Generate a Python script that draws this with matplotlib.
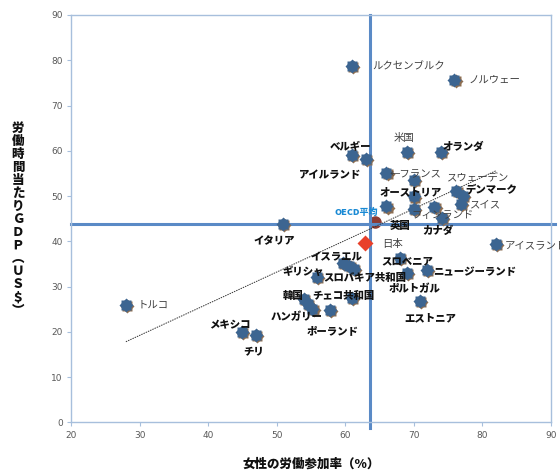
import numpy as np
import matplotlib
matplotlib.use('Agg')
import matplotlib.pyplot as plt
from matplotlib import transforms

plt.rcParams['font.family'] = ['Noto Sans CJK JP', 'DejaVu Sans']

# female labour participation (%) vs GDP per hour worked (US$)
countries = ['ルクセンブルク', 'ノルウェー', '米国', 'オランダ', 'ベルギー', 'アイルランド',
             'フランス', 'ドイツ', 'オーストリア', 'デンマーク', 'スウェーデン', 'スイス',
             'オーストラリア', 'フィンランド', 'スペイン', 'カナダ', 'イタリア', 'アイスランド',
             'イスラエル', 'エストニア2', 'スロバキア共和国', 'スロベニア', 'ニュージーランド',
             'ポルトガル', 'エストニア', 'ギリシャ', 'チェコ共和国', '韓国', 'フランス2',
             'ハンガリー', 'ポーランド', 'トルコ', 'メキシコ', 'チリ']
female_lfp = [61.0, 75.9, 69.0, 74.0, 61.0, 63.0,
              66.0, 70.0, 70.0, 76.2, 77.2, 76.9,
              66.0, 70.0, 73.0, 74.1, 50.9, 82.0,
              59.7, 60.6, 61.3, 68.0, 71.9,
              69.0, 70.9, 55.85, 60.95, 54.0, 54.6,
              55.2, 57.8, 28.0, 44.9, 47.0]
gdp_per_hour = [78.7, 75.6, 59.7, 59.7, 59.1, 58.2,
                55.1, 53.6, 49.9, 51.2, 50.0, 48.2,
                47.7, 47.1, 47.6, 45.1, 43.9, 39.4,
                35.2, 34.6, 33.9, 36.3, 33.7,
                33.0, 26.8, 32.2, 27.4, 27.3, 26.2,
                25.1, 24.8, 25.9, 19.9, 19.3]

japan = (62.9, 39.6)
uk = (64.4, 44.2)
oecd_avg = (63.6, 43.8)

# linear trend (slope, intercept)
trend_slope = 0.70
trend_icpt = -1.8

# labels drawn in a plain grey face; everything else is heavy black
plain_labels = ['ルクセンブルク', 'ノルウェー', '米国', 'フランス', 'スウェーデン', 'スイス',
                'フィンランド', '日本', 'アイスランド', 'トルコ']

# (text, point name, dx px, dy px, ha)
label_pos = [
    ('ルクセンブルク', 'ルクセンブルク', 20, 0, 'left'),
    ('ノルウェー', 'ノルウェー', 14, 0, 'left'),
    ('米国', '米国', -3, 14, 'center'),
    ('オランダ', 'オランダ', 1, 5, 'left'),
    ('ベルギー', 'ベルギー', -2, 8, 'center'),
    ('アイルランド', 'アイルランド', -5, -16, 'right'),
    ('←フランス', 'フランス', 3, -1, 'left'),
    ('スウェーデン', 'スウェーデン', -16, 19, 'left'),
    ('オーストリア', 'オーストリア', -3, 4, 'center'),
    ('デンマーク', 'デンマーク', 9, 1, 'left'),
    ('スイス', 'スイス', 9, 0, 'left'),
    ('フィンランド', 'フィンランド', -2, -6, 'left'),
    ('英国', 'UK', 14, -4, 'left'),
    ('カナダ', 'カナダ', -4, -13, 'center'),
    ('イタリア', 'イタリア', -9, -18, 'center'),
    ('日本', 'JP', 17, -1, 'left'),
    ('アイスランド', 'アイスランド', 9, -1, 'left'),
    ('イスラエル', 'イスラエル', -7, 6, 'center'),
    ('スロベニア', 'スロベニア', -19, -3, 'left'),
    ('ニュージーランド', 'ニュージーランド', 6, -2, 'left'),
    ('ギリシャ', 'ギリシャ', 7, 5, 'right'),
    ('スロバキア共和国', 'スロバキア共和国', -31, -9, 'left'),
    ('ポルトガル', 'ポルトガル', -18, -16, 'left'),
    ('韓国', '韓国', -1, 3, 'right'),
    ('チェコ共和国', 'チェコ共和国', -40, 2, 'left'),
    ('ハンガリー', 'ハンガリー', 10, -8, 'right'),
    ('ポーランド', 'ポーランド', 2, -21, 'center'),
    ('エストニア', 'エストニア', 10, -17, 'center'),
    ('メキシコ', 'メキシコ', 9, 7, 'right'),
    ('チリ', 'チリ', -3, -17, 'center'),
    ('トルコ', 'トルコ', 12, 0, 'left'),
]

frame_col = '#a7bfdc'
line_col = '#5a8ac6'
marker_col = '#3c6591'
shadow_col = '#8d6e52'

fig = plt.figure(figsize=(5.6, 4.71), dpi=100)
ax = fig.add_axes([71 / 560, 1 - 422.3 / 471, 480 / 560, 407.3 / 471])

ax.set_xlim(20, 90)
ax.set_ylim(0, 90)
ax.set_xticks(np.arange(20, 91, 10))
ax.set_yticks(np.arange(0, 91, 10))
ax.tick_params(axis='both', direction='out', length=3, width=0.8, color=frame_col,
               labelsize=6.5, labelcolor='#595959', pad=3)
for lab in ax.get_xticklabels() + ax.get_yticklabels():
    lab.set_family('DejaVu Sans')
for sp in ax.spines.values():
    sp.set_color(frame_col)
    sp.set_linewidth(1.0)

# OECD average cross
ax.plot([20, 90.6], [oecd_avg[1], oecd_avg[1]], color=line_col, lw=2.2, zorder=2, clip_on=False)
ax.plot([oecd_avg[0], oecd_avg[0]], [-1.2, 90], color=line_col, lw=2.2, zorder=2, clip_on=False)

# trend line across the range of the data
tx = np.array([min(female_lfp), max(female_lfp)])
ax.plot(tx, trend_icpt + trend_slope * tx, color='#333333', lw=0.7, ls=(0, (1.5, 1)), zorder=3)

# markers: square + diamond overlay with a small drop shadow
shadow = transforms.offset_copy(ax.transData, fig=fig, x=1.2, y=-1.2, units='dots')
for mk in ['s', 'D']:
    ax.plot(female_lfp, gdp_per_hour, ls='none', marker=mk, ms=7.2 if mk == 's' else 6.8,
            color=shadow_col, mec='none', transform=shadow, zorder=4)
for mk in ['s', 'D']:
    ax.plot(female_lfp, gdp_per_hour, ls='none', marker=mk, ms=7.2 if mk == 's' else 6.8,
            color=marker_col, mec='none', zorder=5)

ax.plot(uk[0], uk[1], ls='none', marker='o', ms=8, color='#8e3b33', zorder=1.5)
ax.plot(japan[0], japan[1], ls='none', marker='D', ms=8, color='#e8402a', mec='none', zorder=5)

points = dict(zip(countries, zip(female_lfp, gdp_per_hour)))
points['UK'] = uk
points['JP'] = japan

for text, key, dx, dy, ha in label_pos:
    name = text.lstrip('←')
    if name in plain_labels:
        kw = dict(fontsize=7.5, color='#404040', fontweight='normal')
    else:
        kw = dict(fontsize=7.5, color='#111111', fontweight='black')
    ax.annotate(text, xy=points[key], xytext=(dx, dy), textcoords='offset pixels',
                ha=ha, va='center', zorder=6, annotation_clip=False, **kw)

ax.annotate('OECD平均', xy=oecd_avg, xytext=(-14, 12), textcoords='offset pixels',
            ha='center', va='center', fontsize=6.5, fontweight='black', color='#1a8ad4', zorder=6)

fig.text(311 / 560, 1 - 463 / 471, '女性の労働参加率（%）', ha='center', va='center',
         fontsize=9, fontweight='black', color='#111111')
ylab = '労働時間当たりＧＤＰ︵ＵＳ＄︶'
fig.text(18 / 560, 1 - 219 / 471, '\n'.join(ylab), ha='center', va='center',
         fontsize=9, fontweight='black', color='#111111', linespacing=1.1)

fig.savefig('out.png', dpi=100)
